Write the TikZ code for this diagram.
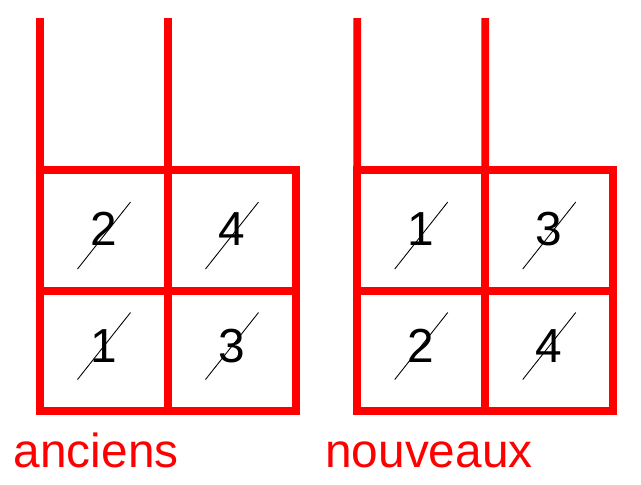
\documentclass[tikz,border=0pt]{standalone}
\usepackage{fontspec}
\setmainfont{Liberation Sans}
\begin{document}
\begin{tikzpicture}[x=0.02cm,y=-0.02cm,
	case/.style={draw=red,line width=0.155cm,minimum width=2.56cm,minimum height=2.41cm,outer sep=0pt,inner sep=0pt},
	chiffre/.style={font=\fontsize{27.2}{32}\selectfont,inner sep=0pt},
	barre/.style={black,line width=0.5pt},
	mur/.style={red,line width=0.155cm},
	titre/.style={red,font=\fontsize{27.2}{32}\selectfont,inner sep=0pt,anchor=base west}]
	\useasboundingbox (0,0) rectangle (641,484);

	% anciens
			\node[case] (ar1c1) at (104,230.5) {};
			\node[case] (ar1c2) at (232,230.5) {};
			\node[case] (ar2c1) at (104,351) {};
			\node[case] (ar2c2) at (232,351) {};
			\coordinate (ah1) at (40,18);
			\coordinate (ah2) at (168,18);
			\draw[mur] (ar1c1.north west) -- (ah1);
			\draw[mur] (ar1c1.north east) -- (ah2);

			\node[chiffre] (ad11) at (104,229) {2};
			\node[chiffre] (ad12) at (232,229) {4};
			\node[chiffre] (ad21) at (104,346) {1};
			\node[chiffre] (ad22) at (232,346) {3};
			\draw[barre] ([shift={(-26.5,40)}]ad11.center) -- ([shift={(26.5,-27)}]ad11.center);
			\draw[barre] ([shift={(-26.5,40)}]ad12.center) -- ([shift={(26.5,-27)}]ad12.center);
			\draw[barre] ([shift={(-26.5,33.5)}]ad21.center) -- ([shift={(26.5,-33.5)}]ad21.center);
			\draw[barre] ([shift={(-26.5,33.5)}]ad22.center) -- ([shift={(26.5,-33.5)}]ad22.center);

			\node[titre] (anciens) at (13.5,467) {anciens};

	% nouveaux
			\node[case] (nr1c1) at (421.25,230.5) {};
			\node[case] (nr1c2) at (549.25,230.5) {};
			\node[case] (nr2c1) at (421.25,351) {};
			\node[case] (nr2c2) at (549.25,351) {};
			\coordinate (nh1) at (357.25,18);
			\coordinate (nh2) at (485.25,18);
			\draw[mur] (nr1c1.north west) -- (nh1);
			\draw[mur] (nr1c1.north east) -- (nh2);

			\node[chiffre] (nd11) at (421.25,229) {1};
			\node[chiffre] (nd12) at (549.25,229) {3};
			\node[chiffre] (nd21) at (421.25,346) {2};
			\node[chiffre] (nd22) at (549.25,346) {4};
			\draw[barre] ([shift={(-26.5,40)}]nd11.center) -- ([shift={(26.5,-27)}]nd11.center);
			\draw[barre] ([shift={(-26.5,40)}]nd12.center) -- ([shift={(26.5,-27)}]nd12.center);
			\draw[barre] ([shift={(-26.5,33.5)}]nd21.center) -- ([shift={(26.5,-33.5)}]nd21.center);
			\draw[barre] ([shift={(-26.5,33.5)}]nd22.center) -- ([shift={(26.5,-33.5)}]nd22.center);

			\node[titre] (nouveaux) at (325,467) {nouveaux};
\end{tikzpicture}
\end{document}
